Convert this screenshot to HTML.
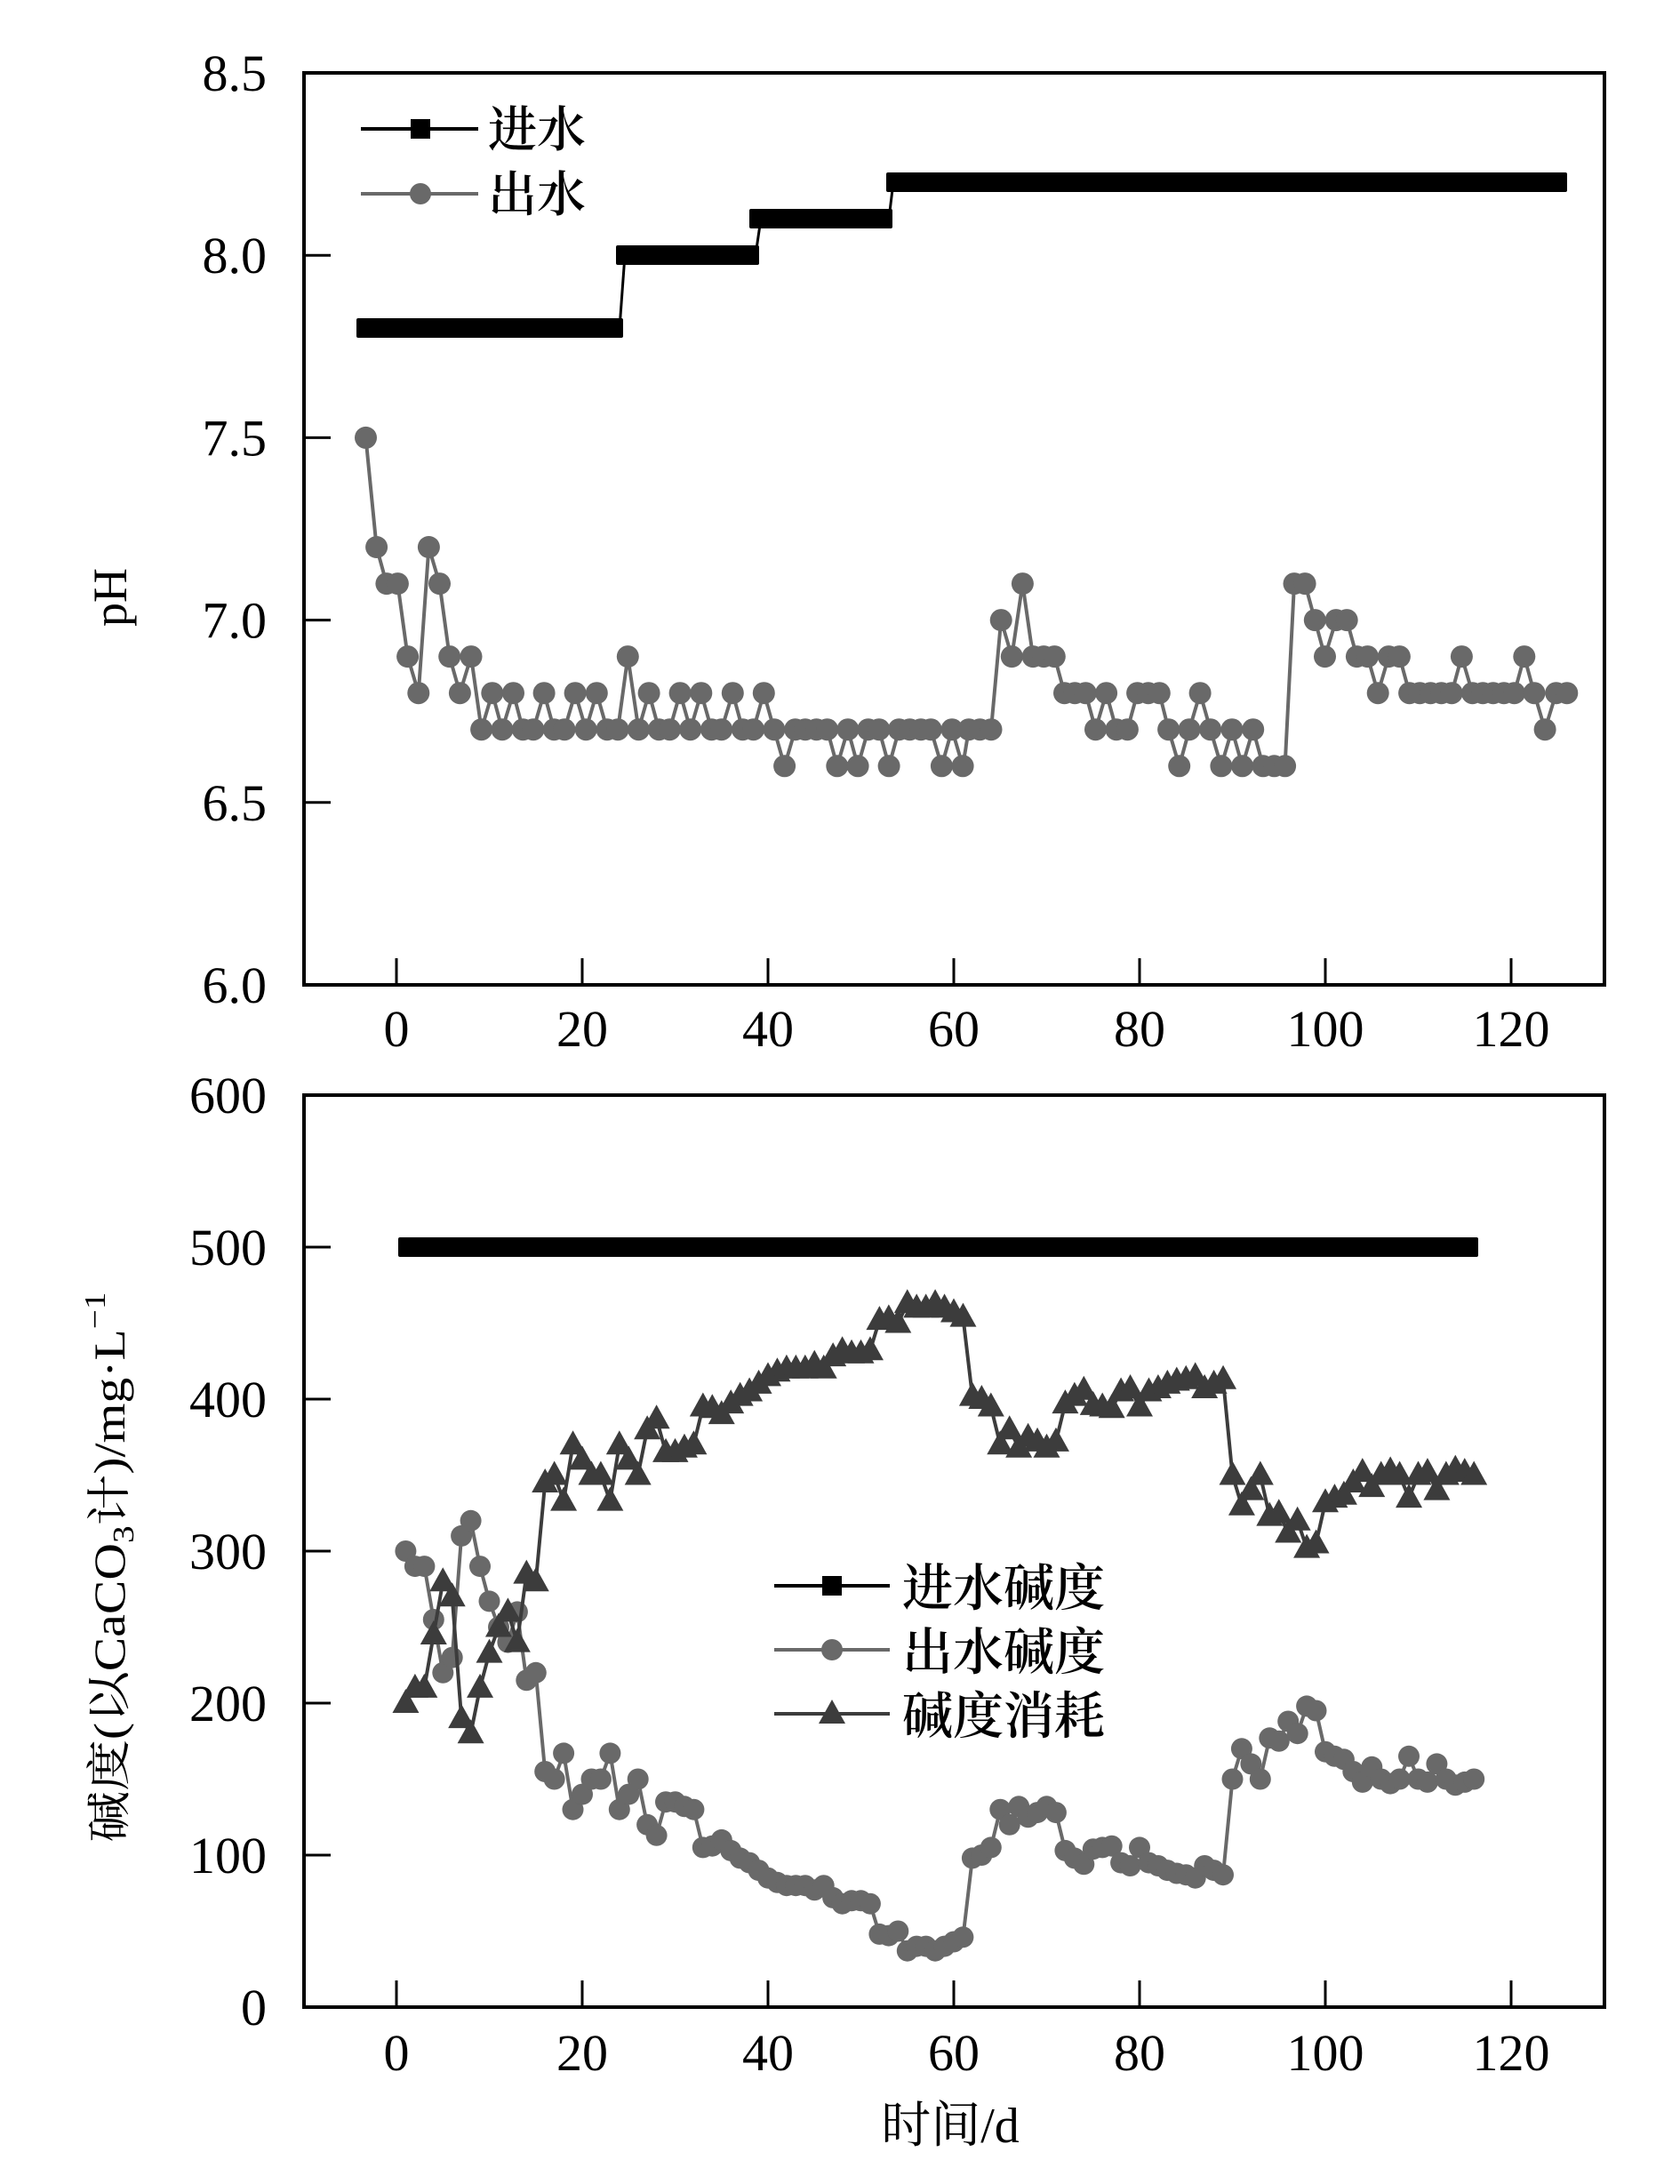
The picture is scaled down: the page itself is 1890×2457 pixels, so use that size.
<!DOCTYPE html>
<html><head><meta charset="utf-8">
<style>
html,body{margin:0;padding:0;background:#fff;}
svg{display:block;}
text{font-family:"Liberation Serif","Noto Serif CJK SC",serif;fill:#000;}
.cj{font-family:"Liberation Serif","Noto Serif CJK SC",serif;font-weight:600;}
</style></head>
<body>
<svg id="s" width="1890" height="2457" viewBox="0 0 1890 2457" xmlns="http://www.w3.org/2000/svg">
<rect width="1890" height="2457" fill="#fff"/>
<rect x="342" y="82" width="1463" height="1026" fill="none" stroke="#000" stroke-width="4"/>
<rect x="342" y="1232" width="1463" height="1026" fill="none" stroke="#000" stroke-width="4"/>
<g id="ticks" stroke="#000" stroke-width="3"></g>
<g id="labels" font-size="58"></g>
<g stroke="#000" stroke-width="3">
<line x1="697" y1="369" x2="703" y2="287"/>
<line x1="850" y1="287" x2="856" y2="246"/>
<line x1="1000" y1="246" x2="1005" y2="205"/>
</g>
<g fill="#000">
<rect x="401" y="358" width="300" height="22" rx="2"/>
<rect x="693" y="276" width="161" height="22" rx="2"/>
<rect x="843" y="235" width="161" height="22" rx="2"/>
<rect x="997" y="194" width="766" height="22" rx="2"/>
</g>
<g id="phout"></g>
<rect x="448" y="1392" width="1215" height="22" rx="2" fill="#000"/>
<g id="eff"></g>
<g id="cons"></g>
<g>
<line x1="406" y1="145" x2="538" y2="145" stroke="#000" stroke-width="4"/>
<rect x="462" y="134" width="22" height="22" fill="#000"/>
<line x1="406" y1="218" x2="538" y2="218" stroke="#696969" stroke-width="4"/>
<circle cx="473" cy="218" r="12" fill="#696969"/>
<text class="cj" x="549" y="165" font-size="55">进水</text>
<text class="cj" x="549" y="238" font-size="55">出水</text>
</g>
<g>
<line x1="871" y1="1784" x2="1001" y2="1784" stroke="#000" stroke-width="4"/>
<rect x="925" y="1773" width="22" height="22" fill="#000"/>
<line x1="871" y1="1856" x2="1001" y2="1856" stroke="#696969" stroke-width="4"/>
<circle cx="936" cy="1856" r="12" fill="#696969"/>
<line x1="871" y1="1928" x2="1001" y2="1928" stroke="#3c3c3c" stroke-width="4"/>
<polygon points="936,1912 921,1939 951,1939" fill="#3c3c3c"/>
<text class="cj" x="1015" y="1806" font-size="57">进水碱度</text>
<text class="cj" x="1015" y="1878" font-size="57">出水碱度</text>
<text class="cj" x="1015" y="1950" font-size="57">碱度消耗</text>
</g>
<text x="1069" y="2410" font-size="56" text-anchor="middle" class="cj" style="font-weight:400">时间/d</text>
<text transform="translate(142,672) rotate(-90)" font-size="54" text-anchor="middle">pH</text>
<text transform="translate(140,1763) rotate(-90)" font-size="50" text-anchor="middle" textLength="619" lengthAdjust="spacingAndGlyphs">碱度(以CaCO<tspan font-size="34" dy="10">3</tspan><tspan dy="-10">计)/mg·L</tspan><tspan font-size="34" dy="-22">−1</tspan></text>
</svg>
<script>
var NS="http://www.w3.org/2000/svg";
function el(p,n,a){var e=document.createElementNS(NS,n);for(var k in a)e.setAttribute(k,a[k]);p.appendChild(e);return e;}
var X=function(d){return 446+d*10.45;};
var tk=document.getElementById('ticks'),lb=document.getElementById('labels');
for(var d=0;d<=120;d+=20){
  var x=X(d);
  el(tk,'line',{x1:x,y1:1108,x2:x,y2:1078});
  el(tk,'line',{x1:x,y1:2258,x2:x,y2:2228});
  var t=el(lb,'text',{x:x,y:1177,'text-anchor':'middle'});t.textContent=d;
  t=el(lb,'text',{x:x,y:2329,'text-anchor':'middle'});t.textContent=d;
}
var pv=['8.5','8.0','7.5','7.0','6.5','6.0'];
for(var i=0;i<6;i++){var y=82+i*205.2;
  if(i>0&&i<5)el(tk,'line',{x1:342,y1:y,x2:372,y2:y});
  var t=el(lb,'text',{x:300,y:y+20,'text-anchor':'end'});t.textContent=pv[i];}
for(var i=0;i<=6;i++){var y=2258-i*171;
  if(i>0&&i<6)el(tk,'line',{x1:342,y1:y,x2:372,y2:y});
  var t=el(lb,'text',{x:300,y:y+20,'text-anchor':'end'});t.textContent=i*100;}
var z6=[[48,7.5],[75,7.2],[100,7.1],[128,7.1],[153,6.9],[180,6.8],[206,7.2],[233,7.1],[258,6.9],[284,6.8],[312,6.9],[338,6.7],[365,6.8],[390,6.7],[418,6.8],[442,6.7],[468,6.7],[495,6.8],[520,6.7],[546,6.7],[573,6.8],[600,6.7],[627,6.8],[653,6.7],[680,6.7],[705,6.9],[732,6.7],[758,6.8],[783,6.7],[810,6.7],[836,6.8],[862,6.7],[889,6.8],[915,6.7],[940,6.7],[968,6.8],[993,6.7],[1020,6.7],[1046,6.8],[1072,6.7],[1098,6.6],[1125,6.7],[1150,6.7],[1178,6.7],[1205,6.7],[1230,6.6],[1257,6.7],[1282,6.6],[1308,6.7],[1335,6.7],[1360,6.6],[1385,6.7],[1412,6.7],[1440,6.7],[1465,6.7],[1492,6.6],[1518,6.7],[1545,6.6]];
var z7=[[22,6.7],[50,6.7],[78,6.7],[103,7.0],[130,6.9],[157,7.1],[183,6.9],[210,6.9],[237,6.9],[262,6.8],[288,6.8],[315,6.8],[340,6.7],[367,6.8],[392,6.7],[420,6.7],[445,6.8],[472,6.8],[500,6.8],[523,6.7],[550,6.6],[575,6.7],[602,6.8],[628,6.7],[655,6.6],[682,6.7],[708,6.6],[735,6.7],[760,6.6],[788,6.6],[815,6.6],[838,7.1],[865,7.1],[890,7.0],[915,6.9],[943,7.0],[970,7.0],[995,6.9],[1022,6.9],[1048,6.8],[1075,6.9],[1102,6.9],[1127,6.8],[1153,6.8],[1180,6.8],[1207,6.8],[1233,6.8],[1258,6.9],[1285,6.8],[1311,6.8],[1337,6.8],[1364,6.8],[1390,6.8],[1415,6.9],[1440,6.8],[1467,6.7],[1495,6.8],[1522,6.8]];
var pts=[];
z6.forEach(function(p){pts.push([390+p[0]/2.229,82+(8.5-p[1])*410.4]);});
z7.forEach(function(p){pts.push([1080+p[0]/2.229,82+(8.5-p[1])*410.4]);});
var g=document.getElementById('phout');
el(g,'polyline',{points:pts.map(function(p){return p[0].toFixed(1)+','+p[1].toFixed(1)}).join(' '),fill:'none',stroke:'#696969','stroke-width':4});
pts.forEach(function(p){el(g,'circle',{cx:p[0].toFixed(1),cy:p[1].toFixed(1),r:12.5,fill:'#696969'});});
var eff=[300,290,290,255,220,230,310,320,290,267,250,240,260,215,220,155,150,167,130,140,150,150,167,130,140,150,120,113,135,135,132,130,105,106,110,103,98,95,90,85,82,80,80,80,77,80,72,68,70,70,68,48,47,50,37,40,40,37,40,43,46,98,100,105,130,120,132,125,128,132,128,103,98,94,104,105,106,95,93,105,95,93,90,88,87,85,93,90,87,150,170,160,150,177,175,188,180,198,195,168,165,163,155,148,158,150,147,150,165,150,148,160,150,146,148,150];
var Y=function(v){return 2258-v*1.71;};
var ge=document.getElementById('eff'),gc=document.getElementById('cons');
var pe=[],pc=[];
eff.forEach(function(v,i){var x=X(i+1);pe.push([x,Y(v)]);pc.push([x,Y(500-v)]);});
el(ge,'polyline',{points:pe.map(function(p){return p[0].toFixed(1)+','+p[1].toFixed(1)}).join(' '),fill:'none',stroke:'#696969','stroke-width':4});
pe.forEach(function(p){el(ge,'circle',{cx:p[0].toFixed(1),cy:p[1].toFixed(1),r:12,fill:'#696969'});});
el(gc,'polyline',{points:pc.map(function(p){return p[0].toFixed(1)+','+p[1].toFixed(1)}).join(' '),fill:'none',stroke:'#3c3c3c','stroke-width':4});
pc.forEach(function(p){var x=p[0],y=p[1];el(gc,'polygon',{points:x+','+(y-16)+' '+(x-15)+','+(y+11)+' '+(x+15)+','+(y+11),fill:'#3c3c3c'});});
</script>
</body></html>
